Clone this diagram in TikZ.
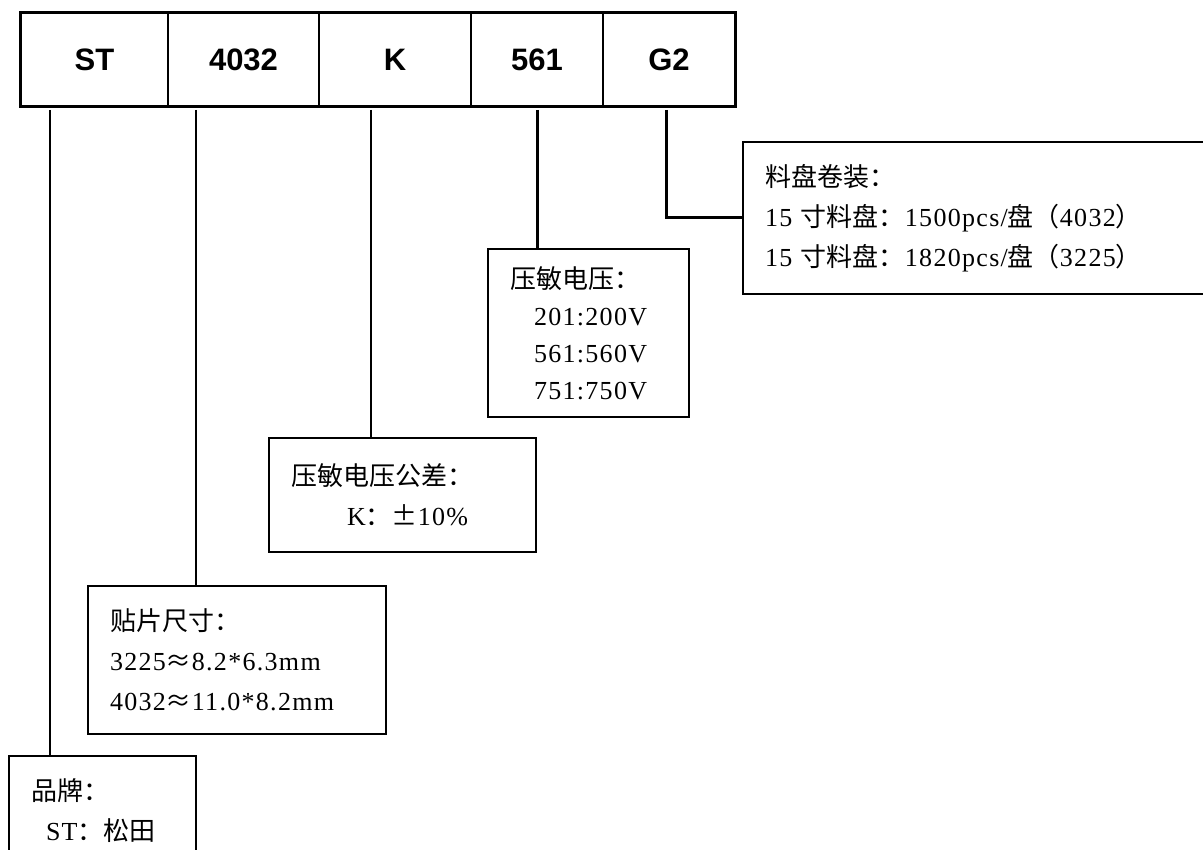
\documentclass[tikz,border=0pt]{standalone}
\usepackage{fontspec}
\setmainfont[LetterSpace=5]{Liberation Serif}
\newfontfamily\zh{Noto Sans CJK SC}
\newfontfamily\hd{Liberation Sans}
\tikzset{
	cell/.style={draw, line width=1.6pt, minimum height=93pt, inner sep=0pt, font=\hd\bfseries\fontsize{31}{31}\selectfont},
	note/.style={draw, line width=2.6pt, inner xsep=22pt, inner ysep=0pt, align=left, font=\fontsize{26}{40}\selectfont},
	lead/.style={line width=1.5pt},
	boldlead/.style={line width=3pt}
}

\begin{document}
\begin{tikzpicture}[x=1pt, y=-1pt]
			%%%%% START %%%%%
			\useasboundingbox (0,0) rectangle (1203,850);
			
			% code row
			\node[cell, minimum width=147pt] (st) at (94.5, 59.5) {ST};
			\node[cell, minimum width=151pt] (size) at (243.5, 59.5) {4032};
			\node[cell, minimum width=152pt] (tol) at (395, 59.5) {K};
			\node[cell, minimum width=132pt] (volt) at (537, 59.5) {561};
			\node[cell, minimum width=132pt] (pack) at (669, 59.5) {G2};
			\draw[line width=2.6pt] (st.north west) rectangle (pack.south east);
			
			% notes
			\node[note, minimum width=187pt, minimum height=110pt, text width=143pt] (brandbox) at (102.5, 811) {{\zh 品牌：}\\\hspace*{15pt}ST{\zh ：松田}};
			\node[note, minimum width=298pt, minimum height=148pt, text width=254pt] (sizebox) at (237, 660) {{\zh 贴片尺寸：}\\3225{\zh ≈}8.2*6.3mm\\4032{\zh ≈}11.0*8.2mm};
			\node[note, minimum width=267pt, minimum height=114pt, text width=223pt] (tolbox) at (402.5, 495) {{\zh 压敏电压公差：}\\\hspace*{56pt}K{\zh ：±}10\%};
			\node[note, minimum width=201pt, minimum height=168pt, text width=157pt, font=\fontsize{26}{37}\selectfont] (voltbox) at (588.5, 333) {{\zh 压敏电压：}\\\hspace*{24pt}201:200V\\\hspace*{24pt}561:560V\\\hspace*{24pt}751:750V};
			\node[note, minimum width=487pt, minimum height=152pt, text width=443pt] (packbox) at (986.5, 218) {{\zh 料盘卷装：}\\15 {\zh 寸料盘：}1500pcs/{\zh 盘（}4032{\zh ）}\\15 {\zh 寸料盘：}1820pcs/{\zh 盘（}3225{\zh ）}};
			
			% leads
			\coordinate (st-out) at (50, 110);
			\coordinate (size-out) at (196, 110);
			\coordinate (tol-out) at (371, 110);
			\coordinate (volt-out) at (537, 110);
			\coordinate (pack-out) at (666, 110);
			
			\draw[lead] (st-out) -- (st-out |- brandbox.north);
			\draw[lead] (size-out) -- (size-out |- sizebox.north);
			\draw[lead] (tol-out) -- (tol-out |- tolbox.north);
			\draw[boldlead] (volt-out) -- (volt-out |- voltbox.north);
			\draw[boldlead] (pack-out) |- (packbox.west);
			
			%%%%% END %%%%%
\end{tikzpicture}
\end{document}
